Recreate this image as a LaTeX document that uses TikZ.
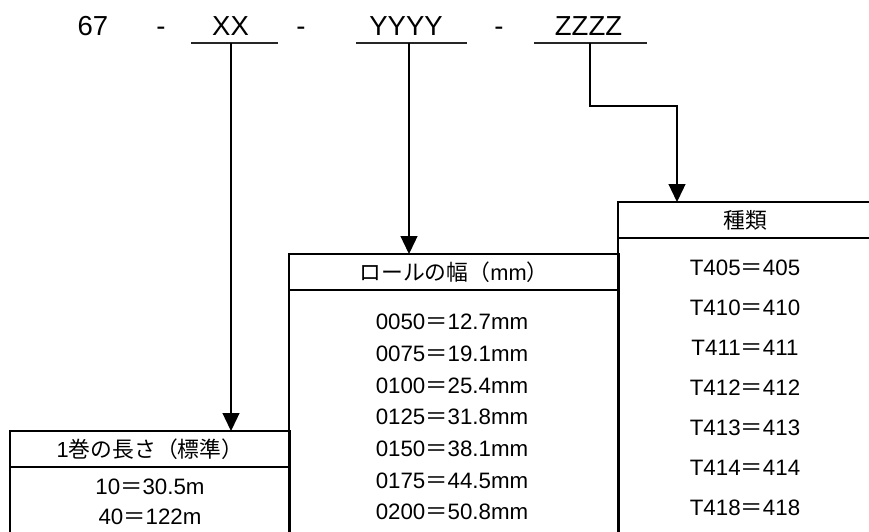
\documentclass[tikz,border=0pt]{standalone}
\usepackage{fontspec}
\setmainfont{Liberation Sans}
\newfontfamily\cjk{Noto Sans CJK JP}
\usetikzlibrary{arrows.meta}
\newcommand\Feq{{\cjk ＝}}
\begin{document}
\begin{tikzpicture}[x=1pt,y=-1pt,
  every node/.style={inner sep=0pt, outer sep=0pt},
  code/.style={font=\fontsize{27.5}{30}\selectfont, anchor=base},
  hdr/.style={draw, line width=1.3pt, minimum height=36pt, anchor=north west,
              font=\fontsize{21.8}{24}\selectfont},
  bodybox/.style={draw, line width=1.3pt, minimum height=300pt, anchor=north west},
  row/.style={font=\fontsize{22.3}{24}\selectfont, anchor=base},
  uline/.style={line width=1.3pt, draw=black!85},
  conn/.style={line width=1.3pt, -{Triangle[width=17pt,length=18pt]}}
]
\useasboundingbox (0,0) rectangle (869,531);
\clip (0,0) rectangle (869,531);

% code line
\node[code] (n67) at (93,35) {67};
\node[code] (d1) at (161,35) {-};
\node[code] (xx) at (230.5,35) {XX};
\node[code] (d2) at (301,35) {-};
\node[code] (yy) at (406,35) {YYYY};
\node[code] (d3) at (499,35) {-};
\node[code] (zz) at (588.5,35) {ZZZZ};

\coordinate (xl) at (191,43); \coordinate (xr) at (278,43); \coordinate (xm) at (231,43);
\coordinate (yl) at (356,43); \coordinate (yr) at (467,43); \coordinate (ym) at (409,43);
\coordinate (zl) at (534,43); \coordinate (zr) at (647,43); \coordinate (zm) at (590,43);
\coordinate (zb) at (677,106);

\draw[uline] (xl) -- (xr);
\draw[uline] (yl) -- (yr);
\draw[uline] (zl) -- (zr);

% boxes
\node[hdr, minimum width=280pt] (hA) at (10,431) {1{\cjk 巻の長さ（標準）}};
\node[bodybox, minimum width=280pt] (bA) at (hA.south west) {};
\node[hdr, minimum width=330pt] (hB) at (289,254) {{\cjk ロールの幅（}mm{\cjk ）}};
\node[bodybox, minimum width=330pt] (bB) at (hB.south west) {};
\node[hdr, minimum width=254pt] (hC) at (618,202) {{\cjk 種類}};
\node[bodybox, minimum width=254pt] (bC) at (hC.south west) {};

% rows
\node[row] (a1) at (150,494.7) {10\Feq 30.5m};
\node[row] (a2) at (150,524.7) {40\Feq 122m};

\node[row] (b1) at (452,329.7) {0050\Feq 12.7mm};
\node[row] (b2) at (452,361.4) {0075\Feq 19.1mm};
\node[row] (b3) at (452,393.1) {0100\Feq 25.4mm};
\node[row] (b4) at (452,424.8) {0125\Feq 31.8mm};
\node[row] (b5) at (452,456.5) {0150\Feq 38.1mm};
\node[row] (b6) at (452,488.2) {0175\Feq 44.5mm};
\node[row] (b7) at (452,519.9) {0200\Feq 50.8mm};

\node[row] (c1) at (745,275.7) {T405\Feq 405};
\node[row] (c2) at (745,315.7) {T410\Feq 410};
\node[row] (c3) at (745,355.7) {T411\Feq 411};
\node[row] (c4) at (745,395.7) {T412\Feq 412};
\node[row] (c5) at (745,435.7) {T413\Feq 413};
\node[row] (c6) at (745,475.7) {T414\Feq 414};
\node[row] (c7) at (745,515.7) {T418\Feq 418};

% connectors
\draw[conn] (xm) -- (xm |- hA.north);
\draw[conn] (ym) -- (ym |- hB.north);
\draw[conn] (zm) -- (zm |- zb) -- (zb) -- (zb |- hC.north);
\end{tikzpicture}
\end{document}
